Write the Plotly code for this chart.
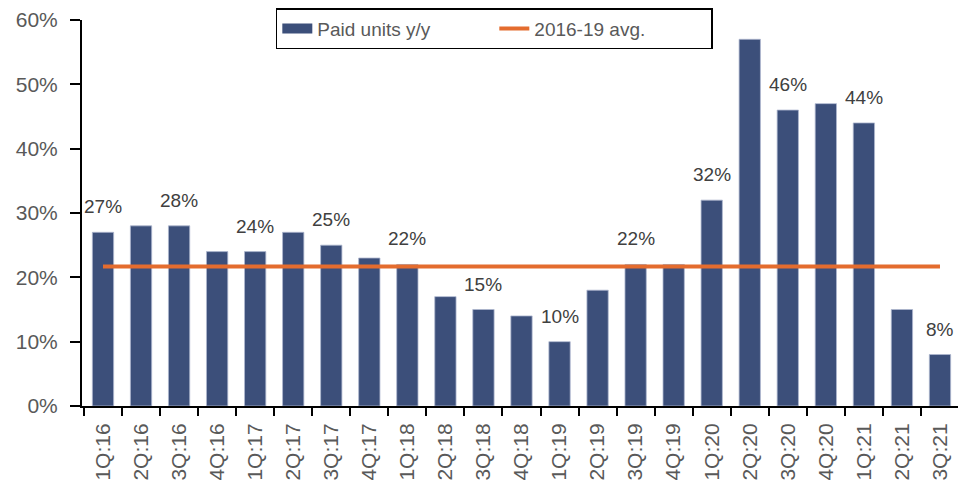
import plotly.graph_objects as go

categories = ["1Q:16","2Q:16","3Q:16","4Q:16","1Q:17","2Q:17","3Q:17","4Q:17",
              "1Q:18","2Q:18","3Q:18","4Q:18","1Q:19","2Q:19","3Q:19","4Q:19",
              "1Q:20","2Q:20","3Q:20","4Q:20","1Q:21","2Q:21","3Q:21"]
paid_units = [27, 28, 28, 24, 24, 27, 25, 23, 22, 17, 15, 14, 10, 18, 22, 22,
              32, 57, 46, 47, 44, 15, 8]
avg_2016_19 = 21.7
labeled_idx = [0, 2, 4, 6, 8, 10, 12, 14, 16, 18, 20, 22]

BAR = "#3C4F7A"
ORANGE = "#E46C2E"
FONT = "Liberation Sans, Arial, sans-serif"

fig = go.Figure()
fig.add_trace(go.Bar(
    x=categories, y=paid_units, name="Paid units y/y", showlegend=False,
    marker=dict(color=BAR, line=dict(color="#AEB8CF", width=0.8)),
    width=0.56,
))
# legend-only entry to mimic the wide bar swatch
fig.add_trace(go.Scatter(
    x=[None], y=[None], name="Paid units y/y", mode="lines",
    line=dict(color=BAR, width=10),
))
fig.add_trace(go.Scatter(
    x=categories, y=[avg_2016_19] * len(categories), name="2016-19 avg.",
    mode="lines", line=dict(color=ORANGE, width=4),
))

for i in labeled_idx:
    fig.add_annotation(x=categories[i], y=paid_units[i], text=f"{paid_units[i]}%",
                       showarrow=False, yanchor="bottom", yshift=13,
                       font=dict(family=FONT, size=19, color="#404040"))

fig.update_layout(
    width=966, height=484,
    margin=dict(l=74, r=15, t=12, b=86, autoexpand=False),
    plot_bgcolor="white", paper_bgcolor="white",
    font=dict(family=FONT, color="#595959"),
    showlegend=True,
    legend=dict(orientation="h", x=0.221, y=1.031, xanchor="left", yanchor="top",
                bordercolor="black", borderwidth=1.5, bgcolor="white",
                font=dict(size=19, color="#595959"), itemwidth=30,
                entrywidth=172),
)
fig.update_xaxes(
    showline=True, linecolor="black", linewidth=2,
    ticks="outside", tickson="boundaries", ticklen=8, tickcolor="black", tickwidth=2,
    tickangle=-90, tickfont=dict(size=21, color="#595959"),
    ticklabelstandoff=7,
    showgrid=False,
)
fig.update_yaxes(
    range=[0, 60], dtick=10, ticksuffix="%",
    showline=True, linecolor="black", linewidth=2,
    ticks="outside", ticklen=10, tickcolor="black", tickwidth=2,
    tickfont=dict(size=21, color="#595959"), ticklabelstandoff=8,
    showgrid=False, zeroline=False,
)

fig.write_html("out.html")
